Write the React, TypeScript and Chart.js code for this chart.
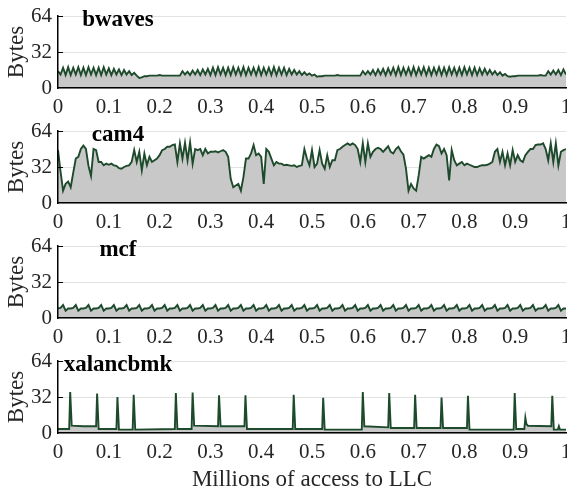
import { useEffect, useRef } from 'react';
import { Chart, registerables } from 'chart.js';

Chart.register(...registerables);

const FONT = "'Liberation Serif', 'Times New Roman', serif";
const LINE_COLOR = '#1e4a2c';
const FILL_COLOR = '#c8c8c8';
const TEXT_COLOR = '#262626';

const X_TICKS = [0, 0.1, 0.2, 0.3, 0.4, 0.5, 0.6, 0.7, 0.8, 0.9, 1];
const X_TICK_LABELS = ['0', '0.1', '0.2', '0.3', '0.4', '0.5', '0.6', '0.7', '0.8', '0.9', '1'];
const Y_TICKS = [0, 32, 64];
const Y_TICK_LABELS = ['0', '32', '64'];
const TITLES = ['bwaves', 'cam4', 'mcf', 'xalancbmk'];
const TITLE_X = 0.118;

// sampled every 0.005 from 0 to 1 (201 samples)
const BWAVES = [
  15, 12, 18, 11.5, 18.5, 11.5, 18, 12, 18.5, 11.5, 18, 11.5, 18.5, 12, 18, 11.5, 18, 11.5, 18.5, 12, 17.5, 11.5, 17, 12, 16.5,
  11.5, 16, 12, 15, 11.5, 13.5, 11,
  9, 9.5, 10.5,
  10.5, 11, 11, 11, 11, 11.5, 11, 11, 11, 11, 11, 11, 11, 11,
  15,
  12, 14.5, 11.5, 15.5, 12, 16, 11.5, 16.5, 12, 17,
  11.5, 18, 11.5, 18.5, 12, 18, 11.5, 18, 11.5, 18.5, 12, 18, 11.5, 18.5, 11.5, 18, 12, 18, 11.5, 18.5,
  11.5, 18, 12, 18, 11.5, 18.5, 11.5, 18, 12, 18,
  11.5, 17, 12, 16, 12, 15, 11.5, 14, 11.5, 13, 11, 12,
  10, 10.5, 10.5, 11, 11, 11, 11, 11, 11.5, 11, 11, 11, 11, 11, 11, 11, 11, 11,
  15,
  12, 15, 12, 16, 11.5, 16.5, 12, 17, 11.5, 17.5, 12,
  18, 11.5, 18.5, 11.5, 18, 12, 18, 11.5, 18.5, 11.5, 18, 12, 18.5, 11.5, 18, 11.5, 18, 12, 18.5, 11.5,
  18, 11.5, 18.5, 12, 18, 11.5, 18, 11.5, 18.5, 12, 18, 11.5, 18, 11.5,
  17.5, 12, 17, 12, 16, 12, 15, 11.5, 14, 11, 12.5, 10.5,
  10, 10.5, 10.5, 11, 11, 11, 11, 11, 11, 11, 11, 11, 11.5, 11, 11,
  15,
  12, 15.5, 12, 16, 11.5, 16.5, 12,
];

const CAM4 = [
  47, 28, 11, 17, 19, 14, 27, 39.5, 41, 48,
  51, 48, 33, 24, 48, 47, 36.5, 36.5, 33.5, 35,
  34, 35, 33.5, 33, 31, 30.5, 32, 33, 33.5, 36.5,
  47, 36.5, 45.5, 29, 44, 33.5, 41, 36.5, 38, 39.5,
  42.5, 47, 48, 50, 50, 51.5, 52, 36.5, 53, 39.5,
  53.5, 38, 54, 35, 48, 47, 48, 42.5, 48, 44,
  45.5, 45.5, 46, 45, 46, 47, 45.5, 41, 21.5, 14,
  15.5, 17, 11, 23, 39.5, 39.5, 44, 51.5, 42.5, 44,
  41, 17, 48, 45.5, 39.5, 33.5, 36.5, 35, 35, 33.5,
  34, 33.5, 33, 33.5, 32, 33, 33.5, 48, 39.5, 33.5,
  47, 32, 35, 47, 35, 30.5, 42.5, 32, 38, 38,
  47, 48, 50, 51.5, 53, 51.5, 53, 51.5, 48, 36.5,
  53, 36.5, 53, 41, 45.5, 48, 49, 48, 45.5, 48,
  50.5, 45.5, 44, 48, 50, 46, 43, 30.5, 11, 17,
  13, 11, 24.5, 41, 39.5, 41, 42.5, 41, 48, 52,
  50.5, 44, 48, 42.5, 20, 47, 38, 33.5, 35, 36.5,
  33.5, 35, 34, 33, 32, 32, 33, 33.5, 33.5, 34,
  35, 36.5, 45.5, 48, 36.5, 45.5, 33.5, 44, 33.5, 47,
  36.5, 42.5, 38, 36.5, 42.5, 45.5, 48, 48, 51.5, 52,
  52, 53, 48, 38, 53, 36.5, 53, 33.5, 45.5, 47,
  48,
];

const MCF = [
  8.5, 9, 11.5, 6.5, 8.5, 8.5, 9, 11.5, 6.5, 8.5, 8.5, 9, 11.5, 6.5, 8.5, 8.5, 9, 11.5, 6.5, 8.5,
  8.5, 9, 11.5, 6.5, 8.5, 8.5, 9, 11.5, 6.5, 8.5, 8.5, 9, 11.5, 6.5, 8.5, 8.5, 9, 11.5, 6.5, 8.5,
  8.5, 9, 11.5, 6.5, 8.5, 8.5, 9, 11.5, 6.5, 8.5, 8.5, 9, 11.5, 6.5, 8.5, 8.5, 9, 11.5, 6.5, 8.5,
  8.5, 9, 11.5, 6.5, 8.5, 8.5, 9, 11.5, 6.5, 8.5, 8.5, 9, 11.5, 6.5, 8.5, 8.5, 9, 11.5, 6.5, 8.5,
  8.5, 9, 11.5, 6.5, 8.5, 8.5, 9, 11.5, 6.5, 8.5, 8.5, 9, 11.5, 6.5, 8.5, 8.5, 9, 11.5, 6.5, 8.5,
  8.5, 9, 11.5, 6.5, 8.5, 8.5, 9, 11.5, 6.5, 8.5, 8.5, 9, 11.5, 6.5, 8.5, 8.5, 9, 11.5, 6.5, 8.5,
  8.5, 9, 11.5, 6.5, 8.5, 8.5, 9, 11.5, 6.5, 8.5, 8.5, 9, 11.5, 6.5, 8.5, 8.5, 9, 11.5, 6.5, 8.5,
  8.5, 9, 11.5, 6.5, 8.5, 8.5, 9, 11.5, 6.5, 8.5, 8.5, 9, 11.5, 6.5, 8.5, 8.5, 9, 11.5, 6.5, 8.5,
  8.5, 9, 11.5, 6.5, 8.5, 8.5, 9, 11.5, 6.5, 8.5, 8.5, 9, 11.5, 6.5, 8.5, 8.5, 9, 11.5, 6.5, 8.5,
  8.5, 9, 11.5, 6.5, 8.5, 8.5, 9, 11.5, 6.5, 8.5, 8.5, 9, 11.5, 6.5, 8.5, 8.5, 9, 11.5, 6.5, 8.5,
  8.5,
];

const XALAN_X = [
  0, 0.022, 0.024, 0.027, 0.05, 0.075, 0.077, 0.08, 0.115, 0.117, 0.12, 0.147, 0.149, 0.152,
  0.23, 0.232, 0.235, 0.263, 0.265, 0.268, 0.315, 0.317, 0.32, 0.367, 0.369, 0.372,
  0.462, 0.464, 0.467, 0.52, 0.522, 0.525, 0.598, 0.6, 0.603, 0.65, 0.652, 0.655,
  0.701, 0.703, 0.706, 0.753, 0.755, 0.758, 0.805, 0.807, 0.81, 0.897, 0.899, 0.902,
  0.918, 0.92, 0.922, 0.925, 0.971, 0.973, 0.976, 0.984, 0.986, 0.988, 1,
];
const XALAN_Y = [
  3.5, 3.5, 36.4, 6.5, 6, 6, 35, 3.5, 3.5, 32, 3, 3, 34, 3,
  3.5, 35.5, 3.5, 3.5, 36, 6.5, 6, 33.5, 6, 6, 33.5, 3.5,
  3.5, 34, 3.5, 3.5, 31.2, 3, 3, 36.4, 6, 5, 35.5, 4.5,
  4.5, 34, 4.5, 4.5, 31.5, 4.5, 4.5, 33, 3, 3, 35.5, 3.5,
  3.5, 13.5, 8, 6.5, 6, 33, 3, 3, 6, 3, 3,
];

function uniformX(values: number[]): number[] {
  return values.map((_, i) => i / (values.length - 1));
}

const PANELS = [
  { title: TITLES[0], xs: uniformX(BWAVES), ys: BWAVES, top: 0, height: 115, last: false },
  { title: TITLES[1], xs: uniformX(CAM4), ys: CAM4, top: 115, height: 115, last: false },
  { title: TITLES[2], xs: uniformX(MCF), ys: MCF, top: 230, height: 115, last: false },
  { title: TITLES[3], xs: XALAN_X, ys: XALAN_Y, top: 345, height: 150, last: true },
];

const AXIS_BOTTOM = 88;

function Panel({ title, xs, ys, height, last }: { title: string; xs: number[]; ys: number[]; height: number; last: boolean }) {
  const ref = useRef<HTMLCanvasElement>(null);
  useEffect(() => {
    if (!ref.current) return;
    const data = ys.map((y, i) => ({ x: xs[i], y }));
    const titlePlugin = {
      id: 'panelTitle',
      afterDatasetsDraw(chart: any) {
        const { ctx, chartArea, scales } = chart;
        ctx.save();
        ctx.font = `bold 23px ${FONT}`;
        ctx.fillStyle = '#000';
        ctx.textAlign = 'center';
        ctx.textBaseline = 'alphabetic';
        ctx.fillText(title, scales.x.getPixelForValue(TITLE_X), chartArea.top + 9.5);
        ctx.strokeStyle = '#000';
        ctx.lineWidth = 1;
        for (const v of [32, 64]) {
          const y = Math.round(scales.y.getPixelForValue(v)) + 0.5;
          ctx.beginPath();
          ctx.moveTo(chartArea.left, y);
          ctx.lineTo(chartArea.left + 5, y);
          ctx.stroke();
        }
        ctx.restore();
      },
    };
    const chart = new Chart(ref.current, {
      type: 'line',
      data: {
        datasets: [
          {
            data,
            borderColor: LINE_COLOR,
            backgroundColor: FILL_COLOR,
            fill: 'origin',
            borderWidth: 1.9,
            pointRadius: 0,
            tension: 0,
          },
        ],
      },
      options: {
        responsive: false,
        animation: false,
        layout: { padding: { top: 16, right: 1, left: 0, bottom: 0 } },
        plugins: { legend: { display: false }, tooltip: { enabled: false }, title: { display: false } },
        scales: {
          x: {
            type: 'linear',
            min: 0,
            max: 1,
            afterBuildTicks: (s: any) => {
              s.ticks = X_TICKS.map((v) => ({ value: v }));
            },
            ticks: {
              callback: (_v: any, i: number) => X_TICK_LABELS[i],
              autoSkip: false,
              maxRotation: 0,
              minRotation: 0,
              padding: 7,
              color: TEXT_COLOR,
              font: { family: FONT, size: 21 },
            },
            grid: { display: false, drawTicks: false },
            border: { display: true, color: '#000', width: 1.5, z: 1 },
            title: last
              ? {
                  display: true,
                  text: 'Millions of access to LLC',
                  color: TEXT_COLOR,
                  font: { family: FONT, size: 23 },
                  padding: { top: 0, bottom: 1 },
                }
              : { display: false },
            afterFit: (s: any) => {
              s.height = height - AXIS_BOTTOM;
              s.paddingLeft = 0;
              s.paddingRight = 0;
            },
          },
          y: {
            type: 'linear',
            min: 0,
            max: 64,
            afterBuildTicks: (s: any) => {
              s.ticks = Y_TICKS.map((v) => ({ value: v }));
            },
            ticks: {
              callback: (_v: any, i: number) => Y_TICK_LABELS[i],
              padding: 6,
              color: TEXT_COLOR,
              font: { family: FONT, size: 21 },
            },
            grid: { color: '#e2e2e2', lineWidth: 1, drawTicks: false },
            border: { display: true, color: '#000', width: 1.5, z: 1 },
            title: {
              display: true,
              text: 'Bytes',
              color: TEXT_COLOR,
              font: { family: FONT, size: 23 },
              padding: { top: 3, bottom: 0 },
            },
            afterFit: (s: any) => {
              s.width = 58;
              s.paddingTop = 0;
              s.paddingBottom = 0;
            },
          },
        },
      },
      plugins: [titlePlugin],
    } as any);
    return () => chart.destroy();
  }, [title, xs, ys, height, last]);
  return <canvas ref={ref} width={567} height={height} style={{ display: 'block', width: 567, height }} />;
}

export default function App() {
  return (
    <div style={{ position: 'absolute', left: 0, top: 0, width: 567, height: 495, background: '#fff' }}>
      {PANELS.map((p) => (
        <div key={p.title} style={{ position: 'absolute', left: 0, top: p.top, width: 567, height: p.height }}>
          <Panel title={p.title} xs={p.xs} ys={p.ys} height={p.height} last={p.last} />
        </div>
      ))}
    </div>
  );
}
